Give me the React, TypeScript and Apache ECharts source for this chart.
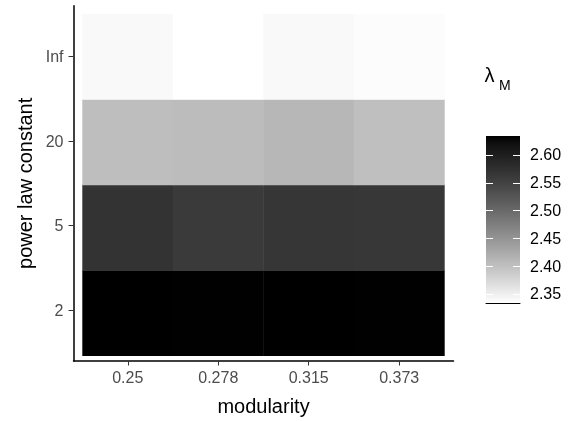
import React, { useEffect, useRef } from "react";
import * as echarts from "echarts";

// ---- data ----
const xCats = ["0.25", "0.278", "0.315", "0.373"];
const yCats = ["2", "5", "20", "Inf"];
const lambdaRow2 = [2.634, 2.633, 2.634, 2.633];
const lambdaRow5 = [2.570, 2.560, 2.566, 2.565];
const lambdaRow20 = [2.402, 2.404, 2.410, 2.401];
const lambdaRowInf = [2.339, 2.333, 2.339, 2.336];
const legendTicks = [2.35, 2.4, 2.45, 2.5, 2.55, 2.6];
const valueMin = 2.333;
const valueMax = 2.634;

const rows = [lambdaRow2, lambdaRow5, lambdaRow20, lambdaRowInf];

// ---- layout ----
const PL = 73.5, PT = 5.7, PW = 380, PH = 358.6; // panel
const cw = PW / 4.2, ch = PH / 4.2;
const CBL = 486, CBT = 136, CBW = 34, CBH = 167.3; // colorbar
const TICK_IN = 7;
const FONT = "'Liberation Sans', Arial, Helvetica, sans-serif";

function labGray(t: number) {
  const L = 100 * (1 - t);
  const Y = L > 8 ? Math.pow((L + 16) / 116, 3) : L / 903.3;
  const c = Y <= 0.0031308 ? 12.92 * Y : 1.055 * Math.pow(Y, 1 / 2.4) - 0.055;
  const v = Math.round(Math.max(0, Math.min(1, c)) * 255);
  return `rgb(${v},${v},${v})`;
}
const NS = 40;
const stops = Array.from({ length: NS + 1 }, (_, i) => labGray(i / NS));

export default function App() {
  const ref = useRef<HTMLDivElement>(null);
  useEffect(() => {
    if (!ref.current) return;
    const chart = echarts.init(ref.current, undefined, { renderer: "svg" });
    const data: number[][] = [];
    rows.forEach((r, yi) => r.forEach((v, xi) => data.push([xi, yi, v])));
    const cbStops = stops
      .map((c, i) => ({ offset: 1 - i / NS, color: c }))
      .sort((a, b) => a.offset - b.offset);
    const idx = [1, 2, 3, 4];
    chart.setOption({
      animation: false,
      textStyle: { fontFamily: FONT },
      grid: [
        { left: PL, top: PT, width: PW, height: PH },
        { left: PL + 0.1 * cw, top: PT + 0.1 * ch, width: 4 * cw, height: 4 * ch },
        { left: CBL, top: CBT, width: CBW, height: CBH },
      ],
      xAxis: [
        {
          gridIndex: 0, type: "value", min: 0.4, max: 4.6,
          axisLine: { show: true, onZero: false, lineStyle: { color: "#000", width: 1.5 } },
          axisTick: { show: true, customValues: idx, length: 4.5, lineStyle: { color: "#333" } },
          axisLabel: {
            show: true, customValues: idx, formatter: (v: number) => xCats[Math.round(v) - 1],
            fontSize: 16, color: "#4d4d4d", margin: 8, fontFamily: FONT,
          },
          splitLine: { show: false },
          name: "modularity", nameLocation: "middle", nameGap: 35,
          nameTextStyle: { fontSize: 20, color: "#000", fontFamily: FONT },
        },
        { gridIndex: 1, type: "category", data: xCats, show: false },
        {
          gridIndex: 2, type: "value", min: 0, max: 1, z: 10,
          axisLine: { show: true, onZero: false, lineStyle: { color: "#000", width: 1 } },
          axisTick: { show: false }, axisLabel: { show: false }, splitLine: { show: false },
        },
      ],
      yAxis: [
        {
          gridIndex: 0, type: "value", min: 0.4, max: 4.6,
          axisLine: { show: true, onZero: false, lineStyle: { color: "#000", width: 1.5 } },
          axisTick: { show: true, customValues: idx, length: 5, lineStyle: { color: "#333" } },
          axisLabel: {
            show: true, customValues: idx, formatter: (v: number) => yCats[Math.round(v) - 1],
            fontSize: 16, color: "#4d4d4d", margin: 10, fontFamily: FONT,
          },
          splitLine: { show: false },
          name: "power law constant", nameLocation: "middle", nameGap: 38, nameRotate: 90,
          nameTextStyle: { fontSize: 20, color: "#000", fontFamily: FONT },
        },
        { gridIndex: 1, type: "category", data: yCats, show: false },
        {
          gridIndex: 2, type: "value", min: valueMin, max: valueMax, position: "right", z: 10,
          axisLine: { show: false },
          axisTick: { show: false },
          axisLabel: {
            show: true, customValues: legendTicks, formatter: (v: number) => v.toFixed(2),
            fontSize: 16, color: "#000", margin: 10, fontFamily: FONT,
          },
          splitLine: { show: false },
        },
      ],
      visualMap: {
        type: "continuous", show: false, min: valueMin, max: valueMax, dimension: 2,
        seriesIndex: 0, inRange: { color: stops },
      },
      graphic: [
        {
          type: "rect", z: 0,
          shape: { x: CBL, y: CBT, width: CBW, height: CBH },
          style: { fill: new echarts.graphic.LinearGradient(0, 0, 0, 1, cbStops) },
        },
        {
          type: "text", z: 5,
          style: { text: "λ", x: 484.5, y: 75, verticalAlign: "middle", fontSize: 20, fill: "#000", fontFamily: FONT },
        },
        {
          type: "text", z: 5,
          style: { text: "M", x: 499, y: 85, verticalAlign: "middle", fontSize: 14, fill: "#000", fontFamily: FONT },
        },
      ],
      series: [
        {
          type: "heatmap", xAxisIndex: 1, yAxisIndex: 1, data,
          itemStyle: { borderWidth: 0 }, emphasis: { disabled: true },
        },
        {
          type: "custom", xAxisIndex: 2, yAxisIndex: 2, z: 10, silent: true,
          data: legendTicks.map((v) => [0, v]),
          renderItem: (_params: any, api: any) => {
            const v = api.value(1);
            const a = api.coord([0, v]);
            const b = api.coord([1, v]);
            const y = Math.round(a[1]) + 0.5;
            const st = { stroke: "#fff", lineWidth: 1 };
            return {
              type: "group",
              children: [
                { type: "line", shape: { x1: a[0], y1: y, x2: a[0] + TICK_IN, y2: y }, style: st },
                { type: "line", shape: { x1: b[0] - TICK_IN, y1: y, x2: b[0], y2: y }, style: st },
              ],
            };
          },
        },
      ],
    });
    return () => chart.dispose();
  }, []);
  return <div ref={ref} style={{ position: "fixed", left: 0, top: 0, width: 585, height: 421 }} />;
}
